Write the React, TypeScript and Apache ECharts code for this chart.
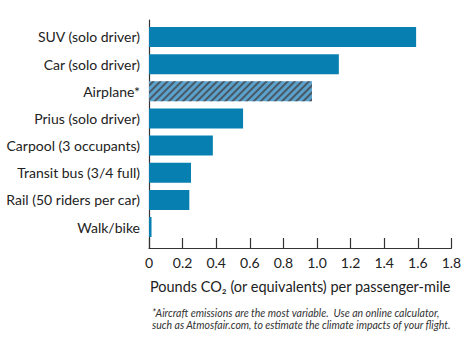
import React, { useEffect, useRef } from "react";
import * as echarts from "echarts";

const categories = [
  "SUV (solo driver)",
  "Car (solo driver)",
  "Airplane*",
  "Prius (solo driver)",
  "Carpool (3 occupants)",
  "Transit bus (3/4 full)",
  "Rail (50 riders per car)",
  "Walk/bike",
];
const values = [1.59, 1.13, 0.97, 0.56, 0.38, 0.25, 0.24, 0.015];
const hatchedCategory = "Airplane*";
const xTicks = [0, 0.2, 0.4, 0.6, 0.8, 1.0, 1.2, 1.4, 1.6, 1.8];
const axisTitle = "Pounds CO\u2082 (or equivalents) per passenger-mile";
const footnoteLines = [
  "*Aircraft emissions are the most variable.  Use an online calculator,",
  "such as Atmosfair.com, to estimate the climate impacts of your flight.",
];

const FONT = "Lato";
const BAR = "#0780b1";

export default function App() {
  const ref = useRef<HTMLDivElement>(null);
  useEffect(() => {
    if (!ref.current) return;
    const chart = echarts.init(ref.current, null, { renderer: "svg" });
    const xmax = xTicks[xTicks.length - 1];
    chart.setOption({
      animation: false,
      backgroundColor: "#ffffff",
      textStyle: { fontFamily: FONT },
      grid: [
        { left: 149, top: 20, width: 302.4, height: 228 },
        { left: 149, top: 23.4, width: 302.4, height: 217.2 },
      ],
      xAxis: [
        {
          gridIndex: 0,
          type: "value",
          min: 0,
          max: xmax,
          interval: 0.2,
          axisLine: { show: true, lineStyle: { color: "#333", width: 1.2 } },
          axisTick: { show: true, inside: true, length: 10, lineStyle: { color: "#333", width: 1.2 } },
          splitLine: { show: false },
          axisLabel: {
            margin: 7,
            fontSize: 14,
            color: "#222",
            fontFamily: FONT,
            formatter: (v: number) => (v === 0 ? "0" : v.toFixed(1)),
          },
          name: axisTitle,
          nameLocation: "middle",
          nameGap: 31,
          nameTextStyle: { fontSize: 14.5, color: "#222", fontFamily: FONT },
        },
        { gridIndex: 1, type: "value", min: 0, max: xmax, show: false },
      ],
      yAxis: [
        {
          gridIndex: 0,
          type: "value",
          min: 0,
          max: 1,
          axisLine: { show: true, lineStyle: { color: "#333", width: 1.2 } },
          axisTick: { show: false },
          axisLabel: { show: false },
          splitLine: { show: false },
        },
        {
          gridIndex: 1,
          type: "category",
          inverse: true,
          data: categories,
          axisLine: { show: false },
          axisTick: { show: false },
          axisLabel: { margin: 9, fontSize: 14, color: "#222", fontFamily: FONT },
        },
      ],
      series: [
        {
          type: "bar",
          xAxisIndex: 1,
          yAxisIndex: 1,
          barWidth: 20,
          itemStyle: { color: BAR },
          data: categories.map((c, i) =>
            c === hatchedCategory
              ? {
                  value: values[i],
                  itemStyle: {
                    color: "#5aa2cb",
                    decal: {
                      symbol: "rect",
                      symbolSize: 1,
                      color: "rgba(70,75,85,0.85)",
                      dashArrayX: [1, 0],
                      dashArrayY: [2, 3],
                      rotation: -Math.PI / 4,
                    },
                  },
                }
              : values[i]
          ),
        },
      ],
      graphic: [
        {
          type: "text",
          left: 152,
          top: 307,
          style: {
            text: footnoteLines.join("\n"),
            fontFamily: FONT,
            fontStyle: "italic",
            fontSize: 10.5,
            lineHeight: 12,
            fill: "#333",
          },
        },
      ],
    });
    return () => chart.dispose();
  }, []);
  return (
    <div
      ref={ref}
      style={{ position: "absolute", left: 0, top: 0, width: 475, height: 350 }}
    />
  );
}
